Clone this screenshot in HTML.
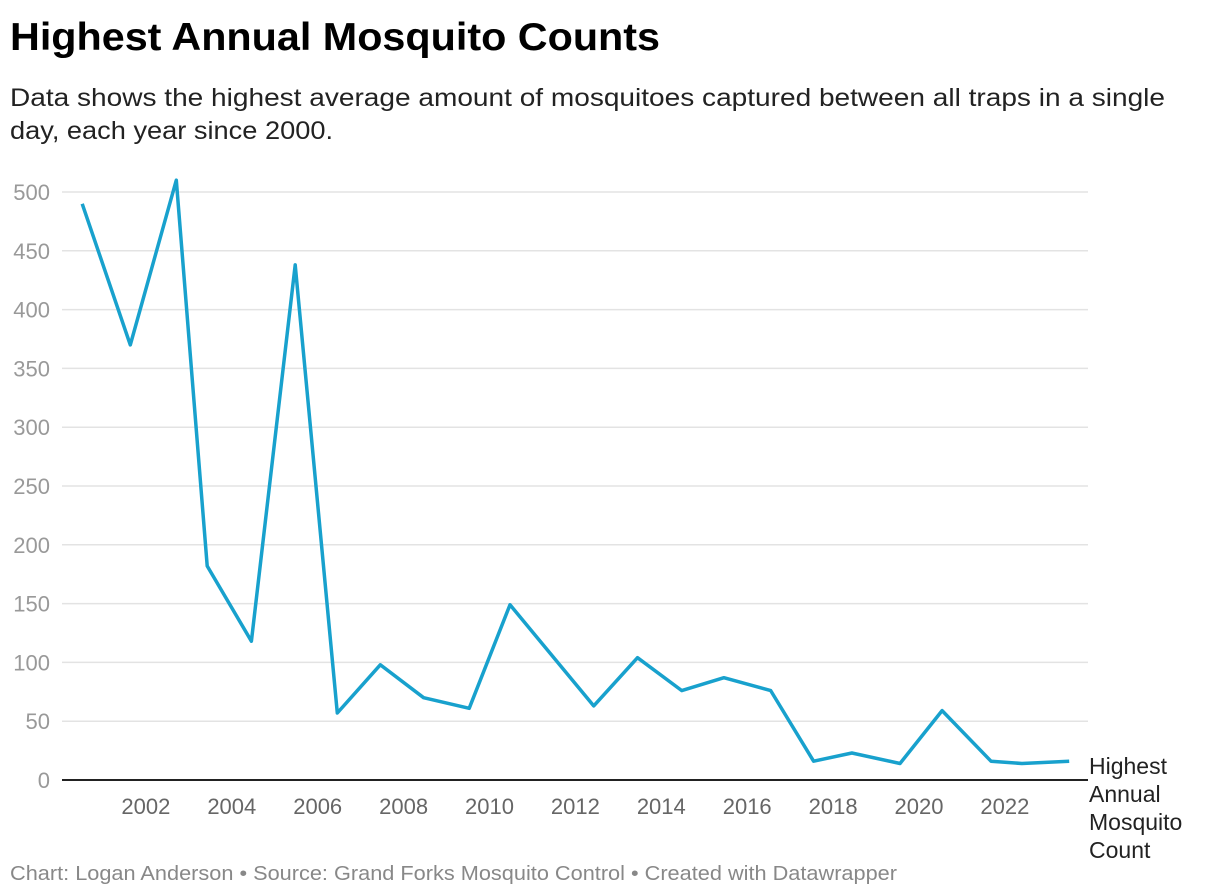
<!DOCTYPE html>
<html><head><meta charset="utf-8"><style>
html,body{margin:0;padding:0;background:#fff;}
svg{display:block;font-family:"Liberation Sans",sans-serif;}
</style></head><body>
<svg id="chart" width="1220" height="896" viewBox="0 0 1220 896">
<text x="10" y="50" font-size="39" font-weight="bold" fill="#000" textLength="650" lengthAdjust="spacingAndGlyphs">Highest Annual Mosquito Counts</text>
<text x="10" y="106" font-size="25" fill="#222" textLength="1155" lengthAdjust="spacingAndGlyphs">Data shows the highest average amount of mosquitoes captured between all traps in a single</text>
<text x="10" y="139" font-size="25" fill="#222" textLength="323" lengthAdjust="spacingAndGlyphs">day, each year since 2000.</text>
<g id="grid"></g><g id="xticks"></g>
<path id="line" fill="none" stroke="#18a1cd" stroke-width="3.5" stroke-linejoin="round"/>
<line x1="62" x2="1088" y1="780" y2="780" stroke="#222" stroke-width="2"/>
<g font-size="23" fill="#222">
<text x="1089" y="774">Highest</text><text x="1089" y="802">Annual</text><text x="1089" y="830">Mosquito</text><text x="1089" y="858">Count</text></g>
<text x="10" y="880" font-size="20" fill="#888" textLength="887" lengthAdjust="spacingAndGlyphs">Chart: Logan Anderson • Source: Grand Forks Mosquito Control • Created with Datawrapper</text>
</svg>
<script>
const dates=[2000.54,2001.66,2002.73,2003.45,2004.48,2005.5,2006.48,2007.48,2008.49,2009.55,2010.5,2012.45,2013.47,2014.5,2015.48,2016.57,2017.57,2018.46,2019.58,2020.56,2021.7,2022.42,2023.52];
const values=[490,370,510,182,118,438,57,98,70,61,149,63,104,76,87,76,16,23,14,59,16,14,16];
const yTicks=[0,50,100,150,200,250,300,350,400,450,500];
const xTicks=[2002,2004,2006,2008,2010,2012,2014,2016,2018,2020,2022];
const NS="http://www.w3.org/2000/svg";
const x=t=>59+(t-2000)*42.95;
const y=v=>780-v*1.176;
const grid=document.getElementById('grid');
yTicks.forEach(v=>{
  if(v>0){const l=document.createElementNS(NS,'line');
  l.setAttribute('x1',62);l.setAttribute('x2',1088);l.setAttribute('y1',y(v));l.setAttribute('y2',y(v));
  l.setAttribute('stroke','#e3e3e3');l.setAttribute('stroke-width','1.5');
  
  
  grid.appendChild(l);}
  const t=document.createElementNS(NS,'text');
  t.setAttribute('x',50);t.setAttribute('y',y(v)+8);t.setAttribute('text-anchor','end');
  t.setAttribute('font-size','22');t.setAttribute('fill','#999');t.textContent=v;
  
  
  grid.appendChild(t);
});
const xt=document.getElementById('xticks');
xTicks.forEach(v=>{
  const t=document.createElementNS(NS,'text');
  t.setAttribute('x',x(v)+1);t.setAttribute('y',814);t.setAttribute('text-anchor','middle');
  t.setAttribute('font-size','22');t.setAttribute('fill','#666');t.textContent=v;
  
  
  xt.appendChild(t);
});
document.getElementById('line').setAttribute('d',dates.map((d,i)=>(i?'L':'M')+x(d).toFixed(1)+','+y(values[i]).toFixed(1)).join(''));
</script>
</body></html>
